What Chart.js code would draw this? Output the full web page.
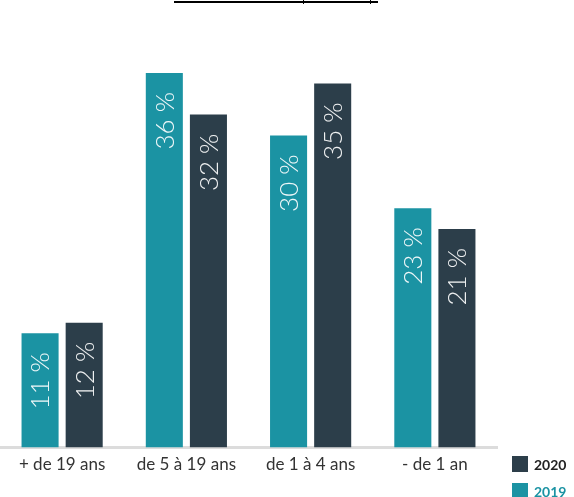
<!DOCTYPE html>
<html>
<head>
<meta charset="utf-8">
<script src="https://cdn.jsdelivr.net/npm/chart.js@4"></script>
<style>
  html, body { margin: 0; padding: 0; background: #fff; }
  #wrap { width: 574px; height: 497px; position: relative; }
</style>
</head>
<body>
<div id="wrap"><canvas id="chart" width="574" height="497"></canvas></div>
<script>
const categories = ['+ de 19 ans', 'de 5 à 19 ans', 'de 1 à 4 ans', '- de 1 an'];
const values2019 = [11, 36, 30, 23];
const values2020 = [12, 32, 35, 21];
const seriesNames = ['2019', '2020'];

const teal = '#1b93a3';
const dark = '#2c3e4a';

// bar labels written vertically near the top of each bar
const barLabels = {
    id: 'barLabels',
    afterDatasetsDraw(chart) {
        const ctx = chart.ctx;
        ctx.save();
        ctx.fillStyle = 'rgba(255,255,255,0.92)';
        ctx.font = '300 26px Lato';
        ctx.textAlign = 'right';
        ctx.textBaseline = 'middle';
        chart.data.datasets.forEach((ds, i) => {
            chart.getDatasetMeta(i).data.forEach((bar, j) => {
                ctx.save();
                ctx.translate(bar.x, bar.y + 19);
                ctx.rotate(-Math.PI / 2);
                ctx.fillText(ds.data[j] + ' %', 0, 1);
                ctx.restore();
            });
        });
        ctx.restore();
    }
};

// legend in the lower right corner, 2020 on top
const cornerLegend = {
    id: 'cornerLegend',
    afterDraw(chart) {
        const ctx = chart.ctx;
        ctx.save();
        ctx.font = 'bold 14px Lato';
        ctx.textBaseline = 'middle';
        const items = [
            { label: seriesNames[1], color: dark, text: '#222' },
            { label: seriesNames[0], color: teal, text: teal }
        ];
        items.forEach((it, k) => {
            const y = 456 + k * 27;
            ctx.fillStyle = it.color;
            ctx.fillRect(512, y, 16, 16);
            ctx.fillStyle = it.text;
            ctx.fillText(it.label, 534, y + 9);
        });
        // remains of the cut-off title underline
        ctx.fillStyle = '#000';
        ctx.fillRect(174, 1, 204, 2);
        ctx.fillRect(303, 0, 1, 4);
        ctx.fillRect(370, 0, 1, 4);
        ctx.restore();
    }
};

new Chart(document.getElementById('chart'), {
    type: 'bar',
    data: {
        labels: categories,
        datasets: [
            { label: seriesNames[0], data: values2019, backgroundColor: teal },
            { label: seriesNames[1], data: values2020, backgroundColor: dark }
        ]
    },
    options: {
        responsive: false,
        animation: false,
        layout: { padding: { top: 73, left: 0, right: 77, bottom: 15 } },
        plugins: { legend: { display: false }, tooltip: { enabled: false } },
        datasets: { bar: { categoryPercentage: 0.71, barPercentage: 0.84 } },
        scales: {
            x: {
                grid: { display: false, drawTicks: false },
                border: { color: '#dcdcdc', width: 3 },
                ticks: { color: '#333', font: { family: 'Lato', size: 17 }, padding: 7 }
            },
            y: { display: false, min: 0, max: 36 }
        }
    },
    plugins: [barLabels, cornerLegend]
});
</script>
</body>
</html>
